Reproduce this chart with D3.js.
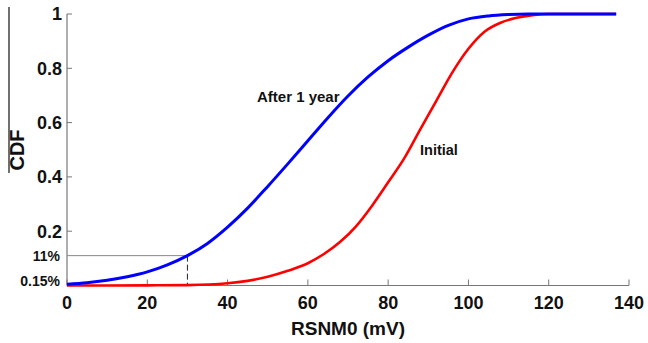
<!DOCTYPE html>
<html>
<head>
<meta charset="utf-8">
<script src="https://cdn.jsdelivr.net/npm/d3@7"></script>
<style>
  body { margin: 0; background: #fff; }
  svg { display: block; }
  text { font-family: "Liberation Sans", Arial, sans-serif; font-weight: bold; fill: #111; }
</style>
</head>
<body>
<div id="chart"></div>
<script>
// values
const xTicks = [0, 20, 40, 60, 80, 100, 120, 140];
const yTicks = [0.2, 0.4, 0.6, 0.8, 1];
const yMarkers = [{ value: 0.11, label: '11%' }, { value: 0.0015, label: '0.15%' }];
const markX = 30; // RSNM0 where the 11% guide is drawn

const afterX = [0, 5, 10, 15, 20, 25, 30, 35, 40, 45, 50, 55, 60, 65, 70, 75, 80, 85, 90, 95, 100, 105, 110, 115, 120, 136.8];
const afterY = [0.005, 0.01, 0.019, 0.032, 0.05, 0.076, 0.11, 0.155, 0.215, 0.285, 0.365, 0.448, 0.533, 0.618, 0.698, 0.768, 0.828, 0.878, 0.922, 0.958, 0.982, 0.993, 0.998, 1, 1, 1];

const initX = [0, 10, 20, 30, 40, 45, 50, 55, 60, 64, 68, 72, 76, 80, 84, 88, 92, 96, 100, 104, 108, 112, 116, 120, 136.8];
const initY = [0, 0, 0.0005, 0.0015, 0.008, 0.017, 0.032, 0.054, 0.082, 0.116, 0.16, 0.218, 0.294, 0.38, 0.468, 0.575, 0.68, 0.785, 0.872, 0.935, 0.968, 0.986, 0.996, 1, 1];

const width = 648, height = 343;
const svg = d3.select('#chart').append('svg')
  .attr('width', width)
  .attr('height', height);

const x = d3.scaleLinear().domain([0, 140]).range([67, 629]);
const y = d3.scaleLinear().domain([0, 1]).range([285.5, 14]);
const axisColor = '#777';

// x axis, ticks pointing up into the plot
const xAxis = svg.append('g').attr('transform', `translate(0,${y(0)})`);
xAxis.append('line')
  .attr('x1', x(0)).attr('x2', x(140))
  .attr('stroke', axisColor).attr('stroke-width', 1.2);
xAxis.selectAll('.xt')
  .data(xTicks)
  .enter().append('line')
  .attr('x1', d => x(d)).attr('x2', d => x(d))
  .attr('y1', 0).attr('y2', -6)
  .attr('stroke', axisColor);
xAxis.selectAll('.xl')
  .data(xTicks)
  .enter().append('text')
  .attr('x', d => x(d))
  .attr('y', 23.5)
  .attr('text-anchor', 'middle')
  .style('font-size', '18px')
  .text(d => d);

// y axis, ticks pointing right
const yAxis = svg.append('g').attr('transform', `translate(${x(0)},0)`);
yAxis.append('line')
  .attr('y1', y(0)).attr('y2', y(1))
  .attr('stroke', axisColor).attr('stroke-width', 1.2);
yAxis.selectAll('.yt')
  .data(yTicks)
  .enter().append('line')
  .attr('y1', d => y(d)).attr('y2', d => y(d))
  .attr('x1', 0).attr('x2', 5)
  .attr('stroke', axisColor);
yAxis.selectAll('.yl')
  .data(yTicks)
  .enter().append('text')
  .attr('x', -5)
  .attr('y', d => y(d))
  .attr('dy', '0.36em')
  .attr('text-anchor', 'end')
  .style('font-size', '18px')
  .text(d => d);
yAxis.selectAll('.ym')
  .data(yMarkers)
  .enter().append('text')
  .attr('x', -7)
  .attr('y', d => y(d.value))
  .attr('dy', d => d.value < 0.01 ? '0.1em' : '0.36em')
  .attr('text-anchor', 'end')
  .style('font-size', '14px')
  .text(d => d.label);

// 11% guide lines
svg.append('line')
  .attr('x1', x(0)).attr('x2', x(markX))
  .attr('y1', y(0.11)).attr('y2', y(0.11))
  .attr('stroke', '#888').attr('stroke-width', 1);
svg.append('line')
  .attr('x1', x(markX)).attr('x2', x(markX))
  .attr('y1', y(0.11)).attr('y2', y(0))
  .attr('stroke', '#222').attr('stroke-width', 1)
  .attr('stroke-dasharray', '6,3');

// curves
const line = d3.line()
  .x(d => x(d[0]))
  .y(d => y(d[1]))
  .curve(d3.curveMonotoneX);

svg.append('path')
  .datum(initX.map((v, i) => [v, initY[i]]))
  .attr('d', line)
  .attr('fill', 'none')
  .attr('stroke', '#ff0000')
  .attr('stroke-width', 2.6);

svg.append('path')
  .datum(afterX.map((v, i) => [v, afterY[i]]))
  .attr('d', line)
  .attr('fill', 'none')
  .attr('stroke', '#0000ff')
  .attr('stroke-width', 3);

// curve labels
svg.append('text')
  .attr('x', 257).attr('y', 102)
  .style('font-size', '15px')
  .text('After 1 year');
svg.append('text')
  .attr('x', 420).attr('y', 155)
  .style('font-size', '14.5px')
  .text('Initial');

// axis titles
svg.append('text')
  .attr('x', (x(0) + x(140)) / 2)
  .attr('y', 335)
  .attr('text-anchor', 'middle')
  .style('font-size', '19px')
  .text('RSNM0 (mV)');

svg.append('text')
  .attr('transform', 'translate(24,150) rotate(-90)')
  .attr('text-anchor', 'middle')
  .style('font-size', '20px')
  .text('CDF');

// stray rule left of the CDF label in the source figure
svg.append('line')
  .attr('x1', 9).attr('x2', 9)
  .attr('y1', 7).attr('y2', 173)
  .attr('stroke', '#111').attr('stroke-width', 1.2);
</script>
</body>
</html>
